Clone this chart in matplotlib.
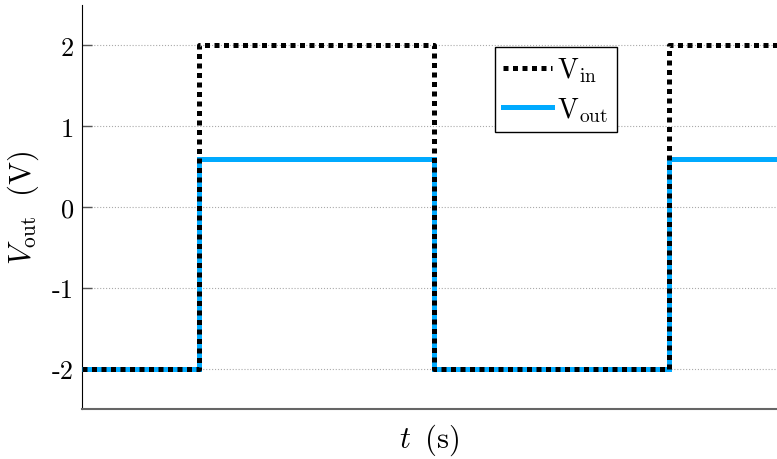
import matplotlib
matplotlib.use("Agg")
import matplotlib.pyplot as plt

plt.rcParams["mathtext.fontset"] = "cm"
plt.rcParams["font.family"] = ["cmr10", "DejaVu Serif"]
plt.rcParams["axes.unicode_minus"] = False

# step times (half period = 1) and levels
t = [0.0, 0.5, 0.5, 1.5, 1.5, 2.5, 2.5, 2.96]
v_in = [-2, -2, 2, 2, -2, -2, 2, 2]
v_out = [-2, -2, 0.6, 0.6, -2, -2, 0.6, 0.6]
y_ticks = [-2, -1, 0, 1, 2]

fig = plt.figure(figsize=(7.77, 4.6), dpi=100)
ax = fig.add_axes([0.1055, 0.1087, 0.8945, 0.8783])

ax.plot(t, v_out, color="#00aaff", lw=3.6, solid_joinstyle="miter", label=r"$\mathrm{V}_\mathrm{out}$", zorder=3)
ax.plot(t, v_in, color="black", lw=3.6, ls=(0, (1, 0.9)), label=r"$\mathrm{V}_\mathrm{in}$", zorder=4)

ax.set_xlim(0, 2.96)
ax.set_ylim(-2.5, 2.5)
ax.set_yticks(y_ticks)
ax.set_yticklabels([str(v) for v in y_ticks])
ax.set_xticks([])
ax.tick_params(axis="y", direction="in", length=7, width=1, color="#555555", labelsize=19, pad=6)
ax.grid(axis="y", color="#aaaaaa", ls=":", lw=0.8)

for s in ["top", "right"]:
    ax.spines[s].set_visible(False)
ax.spines["left"].set_color("black")
ax.spines["bottom"].set_color("#666666")
ax.spines["bottom"].set_linewidth(1.5)

ax.set_ylabel(r"$V_\mathrm{out}\ \ (\mathrm{V})$", fontsize=22, labelpad=8)
ax.set_xlabel(r"$t\;\;(\mathrm{s})$", fontsize=22, labelpad=9)

h, l = ax.get_legend_handles_labels()
leg = ax.legend(h[::-1], l[::-1], loc="upper left", bbox_to_anchor=(0.594, 0.896), fontsize=20,
                fancybox=False, framealpha=1, edgecolor="black", handlelength=1.75,
                handletextpad=0.2, borderpad=0.3, labelspacing=0.4, borderaxespad=0)
leg.get_frame().set_linewidth(1.0)

fig.savefig("out.png", dpi=100)
